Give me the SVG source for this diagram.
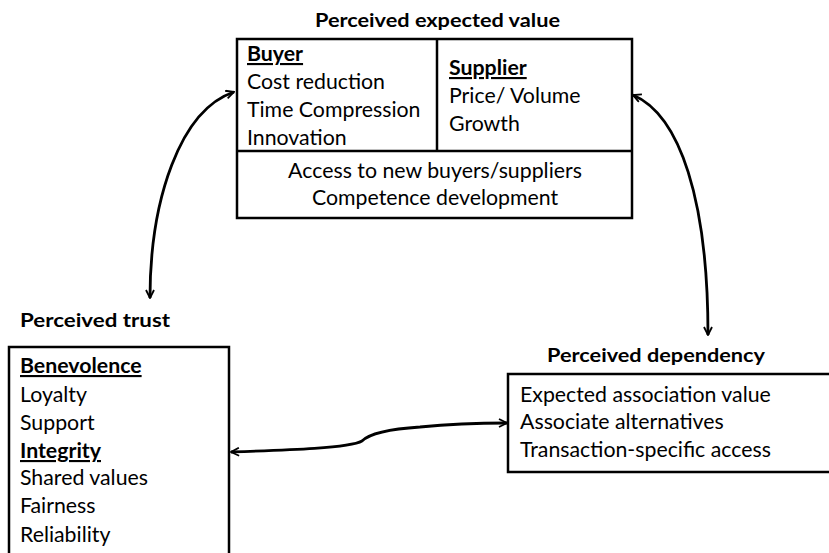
<svg xmlns="http://www.w3.org/2000/svg" width="829" height="553" viewBox="0 0 829 553">
<style>
text{font-family:Lato,"Open Sans","Liberation Sans",sans-serif;fill:#000}
.t{font-size:19.5px;font-weight:bold}
.b{font-size:21.3px}
.u{font-weight:bold;text-decoration:underline}
.box{fill:#fff;stroke:#000;stroke-width:2.5}
.c{fill:none;stroke:#000;stroke-width:2.8}
</style>
<defs>
<marker id="ah" viewBox="0 0 10 10" refX="9" refY="5" markerWidth="10" markerHeight="10" markerUnits="userSpaceOnUse" orient="auto-start-reverse">
<path d="M1,1 L9,5 L1,9" fill="none" stroke="#000" stroke-width="1.8"/>
</marker>
</defs>
<rect width="829" height="553" fill="#fff"/>
<g id="value">
<text class="t" x="315" y="27" textLength="245" lengthAdjust="spacingAndGlyphs">Perceived expected value</text>
<rect class="box" x="237" y="39" width="395" height="179"/>
<line x1="437" y1="39" x2="437" y2="151" stroke="#000" stroke-width="2.5"/>
<line x1="237" y1="151" x2="632" y2="151" stroke="#000" stroke-width="2.5"/>
<text class="b" x="247" y="61"><tspan class="u">Buyer</tspan><tspan x="247" y="89">Cost reduction</tspan><tspan x="247" y="117">Time Compression</tspan><tspan x="247" y="145">Innovation</tspan></text>
<text class="b" x="449" y="75"><tspan class="u">Supplier</tspan><tspan x="449" y="103">Price/ Volume</tspan><tspan x="449" y="131">Growth</tspan></text>
<text class="b" x="435" y="178" text-anchor="middle">Access to new buyers/suppliers</text>
<text class="b" x="435" y="205" text-anchor="middle">Competence development</text>
</g>
<g id="trust">
<text class="t" x="20" y="327" textLength="150" lengthAdjust="spacingAndGlyphs">Perceived  trust</text>
<rect class="box" x="9" y="347" width="220" height="215"/>
<text class="b" x="20" y="373"><tspan class="u">Benevolence</tspan><tspan x="20" y="402">Loyalty</tspan><tspan x="20" y="430">Support</tspan><tspan class="u" x="20" y="458">Integrity</tspan><tspan x="20" y="485">Shared values</tspan><tspan x="20" y="513">Fairness</tspan><tspan x="20" y="542">Reliability</tspan></text>
</g>
<g id="dependency">
<text class="t" x="547" y="362" textLength="218" lengthAdjust="spacingAndGlyphs">Perceived dependency</text>
<rect class="box" x="508" y="374" width="330" height="98"/>
<text class="b" x="520" y="402">Expected association value<tspan x="520" y="429">Associate alternatives</tspan><tspan x="520" y="457">Transaction-specific access</tspan></text>
</g>
<g id="connectors">
<path class="c" d="M150,298 C150,200 180,110 234,92" marker-start="url(#ah)" marker-end="url(#ah)"/>
<path class="c" d="M633,95 C680,115 708,200 708,335" marker-start="url(#ah)" marker-end="url(#ah)"/>
<path class="c" d="M231,452 C290,450 350,448 362,441 C370,433 390,429 420,427 C450,424 480,423 507,423" marker-start="url(#ah)" marker-end="url(#ah)"/>
</g>
</svg>
